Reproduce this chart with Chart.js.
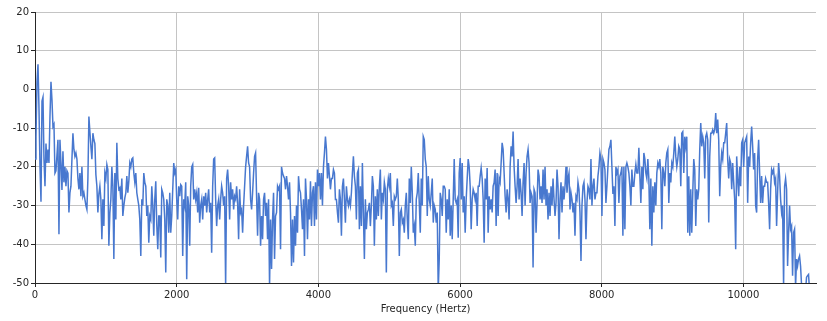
<!DOCTYPE html>
<html lang="en">
<head>
  <meta charset="UTF-8" />
  <title>Spectrum</title>
  <script src="https://cdn.jsdelivr.net/npm/chart.js"></script>
  <style>
    body { margin: 0; background: #fff; }
    .chart-container { width: 827px; height: 321px; }
  </style>
</head>
<body>
  <div class="chart-container">
    <canvas id="spectrum" width="827" height="321"></canvas>
  </div>

  <script>
    // one reading per frequency bin
    const binHz = 14.09;
    const freqTicks = [0, 2000, 4000, 6000, 8000, 10000];
    const levelsDb = [
      -18, -12, 2, 6.5, -5, -20, -29, -3, -2, -18,
      -25, -14, -19, -15.5, -19, -7, 2, -2.7, -9.6, -9,
      -21.6, -21, -17, -13, -37.4, -13, -19, -26, -16, -24,
      -20, -25, -21, -21.6, -31.8, -26.7, -25, -18, -11.3, -15.5,
      -17.3, -16.4, -18, -23, -25.8, -21.6, -27.6, -20, -27.6, -26.7,
      -28.4, -30, -31, -23, -7, -11, -14.7, -18, -11.3, -13,
      -14, -22, -25, -31.8, -27, -25, -28.4, -38.7, -28.4, -35.3,
      -21.6, -23, -19.4, -20.7, -40.4, -32, -28.4, -20, -25, -43.8,
      -21.6, -33.6, -13.8, -23, -25.8, -25.4, -28.4, -23, -32.7, -30,
      -28, -26.7, -22.4, -26.7, -23.7, -19, -20, -18, -17.7, -21.6,
      -24, -21.6, -26.7, -28.4, -30, -33.6, -43, -28.4, -30, -21.6,
      -24, -25, -32.7, -30, -39.6, -32.7, -33.6, -25, -30, -37.8,
      -28.4, -23.7, -35, -41.3, -32.7, -32.7, -43.4, -25.8, -26.7, -28.4,
      -33.6, -47.3, -28.4, -30, -37, -26.7, -37, -32.7, -25.8, -19,
      -21.6, -20.7, -28.4, -33.6, -25, -27.6, -24.6, -25, -43, -28.4,
      -30, -24, -49, -27.6, -30, -40.4, -25, -20, -19.4, -28.4,
      -25.8, -28.4, -26.7, -31.8, -25.4, -34.4, -30, -28.4, -33.6, -27.6,
      -30, -26.7, -31.8, -28.4, -25.8, -31.8, -29.3, -42.2, -25, -18,
      -17.7, -28.4, -35.3, -30, -28.4, -33.6, -28.4, -25, -26.7, -30,
      -27.6, -51, -23, -20.7, -25, -33.6, -24, -28.4, -25.8, -31,
      -27.6, -28.4, -25, -29.3, -38.7, -25.8, -31.8, -31, -37, -30,
      -25, -20, -17.3, -14.7, -19, -20, -28.4, -31, -26.7, -21.6,
      -17.3, -16.4, -27.6, -37.8, -26.7, -28.4, -40.4, -32.7, -38.7, -28.4,
      -26.7, -32.7, -29.3, -38.7, -28.4, -51, -33.6, -46.4, -33.6, -26.7,
      -43.8, -32.7, -31.8, -25, -25.8, -25, -41.3, -20, -21.6, -22.4,
      -23, -25.8, -22.4, -25, -28.4, -24, -31.8, -45.6, -33.6, -44.7,
      -32.7, -40.4, -30, -37, -22.4, -25.8, -26.7, -31, -36.1, -28.4,
      -43, -23, -28.4, -38.7, -28.4, -33.6, -23.7, -35.3, -26.7, -25,
      -35.3, -24, -33.6, -20.7, -25, -21.6, -28.4, -21.6, -30, -20,
      -16.4, -12.2, -15.5, -23, -19, -22.4, -25.8, -23, -23, -20.7,
      -21.6, -28.4, -28.4, -31.8, -34.4, -25.8, -28.4, -37.8, -25, -23,
      -28.4, -34.4, -25, -28.4, -30, -28.4, -30, -26.7, -21.6, -17.3,
      -22.4, -25, -33.6, -21.6, -20.7, -36.1, -25, -35.3, -19, -31.8,
      -43.8, -28.4, -36.1, -31.8, -31, -29.3, -35.3, -30, -22.4, -25,
      -40.4, -27.6, -33.6, -25.8, -32.7, -25, -20.7, -33.6, -26.7, -28.4,
      -24, -25.8, -47.3, -25.8, -23, -25, -21.6, -30, -29.3, -35.3,
      -27.6, -28.4, -27.6, -23, -28.4, -43, -31.8, -31, -34.4, -33.6,
      -37, -30, -26.7, -33.6, -38.7, -23, -29.3, -20, -26.7, -37,
      -35.3, -40.4, -28.4, -26.7, -21.6, -29.3, -37, -23, -30, -12.2,
      -13, -18, -20, -32.7, -22.4, -28.4, -30, -26.7, -23, -34.4,
      -30, -31, -34.4, -31.8, -52, -43.8, -26.7, -28.4, -32.7, -25,
      -25, -25.8, -37, -28.4, -33.6, -25.8, -37.8, -30, -38.7, -28.4,
      -18, -28.4, -29.3, -28.4, -38.3, -21.6, -17.7, -28.4, -19, -31.8,
      -27.6, -37, -28.4, -23, -18, -20, -25, -36.1, -28.4, -25.8,
      -26.7, -28.4, -26.7, -35.3, -25, -25, -22.4, -20.3, -23, -28.4,
      -39.6, -23, -28.4, -20.3, -37, -27.6, -31, -28.4, -31.8, -25,
      -24, -20.7, -35.3, -21.6, -32.7, -23, -24, -19, -13.8, -15.5,
      -21.6, -27.6, -31.8, -25.8, -28.4, -33.6, -20, -14.7, -17.3, -10.9,
      -20, -25, -29.3, -25, -18, -28.4, -23, -26.7, -32.7, -24,
      -19, -30, -21.6, -17.3, -15.5, -19, -29.3, -26.7, -27.6, -46,
      -25.8, -26.7, -37, -29.3, -20.7, -22.4, -28.4, -25, -29.3, -20.7,
      -28.4, -20, -30, -25.8, -33.6, -26.7, -32.7, -25, -30, -23,
      -28.4, -32.7, -29.3, -20.7, -25, -38.7, -28.4, -24, -31.8, -25,
      -28.4, -25, -20, -26.7, -23, -21.6, -31, -26.7, -28.4, -31.8,
      -29.3, -37.8, -27.6, -28.4, -24, -25.8, -31.8, -44.3, -30, -25,
      -24, -28.4, -38.7, -29.3, -25, -25.8, -28.4, -18, -30, -25,
      -23, -28.4, -26.7, -26.7, -22.4, -20, -16.4, -18, -32.7, -18,
      -19, -20.7, -29.3, -25, -20, -15.5, -14.7, -13, -20, -27,
      -25, -35.3, -20, -21.6, -20.7, -29.3, -22.4, -21.6, -20, -37.8,
      -20, -36.1, -20, -19, -20, -21.6, -25, -30, -20.7, -25,
      -25, -21.6, -19.4, -21.6, -21.6, -15.1, -22.4, -29.3, -20, -25.8,
      -16.4, -18, -21.6, -23, -18, -23, -36.1, -23, -40.4, -25,
      -31.8, -24, -30, -21.6, -19, -20, -18, -21.6, -36.1, -20,
      -21.6, -25, -19, -16.4, -15.5, -29.3, -21.6, -24, -19, -20,
      -16.4, -12.2, -17.3, -20, -18, -14.7, -15.5, -25, -11.3, -10.9,
      -21.6, -12.2, -14.7, -12.2, -37, -22.4, -37.8, -25.8, -37, -26.7,
      -18, -20.7, -35.3, -25.8, -28.4, -25.8, -15.5, -8.7, -14.7, -12.2,
      -13.8, -23, -12.2, -11.3, -13, -34.4, -17.3, -11.3, -11.3, -10.4,
      -11.3, -10.4, -6.1, -11.3, -7.8, -13, -27.6, -20, -16.4, -18,
      -13.8, -13.8, -11.3, -8.7, -18, -23, -18, -19, -25.8, -19,
      -24, -28.4, -41.3, -17.3, -23, -27.6, -20, -25, -13.8, -13,
      -20, -13.8, -13, -12.2, -29.3, -17.3, -20, -13.8, -9.6, -14.7,
      -20.7, -16.4, -30, -31.8, -18, -13, -21.6, -29.3, -22.4, -29.3,
      -25, -25, -23, -24, -24, -29.3, -36.1, -25.8, -20.7, -21.6,
      -20.7, -24, -23, -35.3, -26.7, -19, -22.4, -28.4, -31.8, -30,
      -51, -25, -23, -25.8, -45.6, -37, -30, -36.1, -35.3, -48.1,
      -37, -36.1, -51, -43.8, -45.6, -43.8, -43, -45.6, -50.5, -54,
      -56, -55, -52, -48.5, -48.1, -47.8, -52, -56, -57, -58,
      -59, -60, -60
    ];

    const points = levelsDb.map((db, i) => ({ x: i * binHz, y: db }));

    const axisFont = { family: 'DejaVu Sans', size: 10 };
    const inkColor = '#262626';
    const gridColor = '#c4c4c4';

    new Chart(document.getElementById('spectrum'), {
      type: 'line',
      data: {
        datasets: [{
          data: points,
          borderColor: '#4878cf',
          borderWidth: 1.5,
          pointRadius: 0,
          tension: 0,
          fill: false
        }]
      },
      options: {
        responsive: false,
        animation: false,
        layout: { padding: { top: 12, right: 11, left: 0, bottom: 0 } },
        plugins: {
          legend: { display: false },
          tooltip: { enabled: false }
        },
        scales: {
          x: {
            type: 'linear',
            min: 0,
            max: 11025,
            afterFit: s => { s.height = 38; },
            afterBuildTicks: s => { s.ticks = freqTicks.map(v => ({ value: v })); },
            grid: { color: gridColor, lineWidth: 1, tickLength: 4, tickColor: inkColor },
            border: { display: true, color: inkColor, width: 1 },
            ticks: {
              autoSkip: false,
              maxRotation: 0,
              padding: 2,
              color: inkColor,
              font: axisFont,
              callback: v => String(v)
            },
            title: {
              display: true,
              text: 'Frequency (Hertz)',
              color: inkColor,
              font: axisFont,
              padding: { top: 0, bottom: 6 }
            }
          },
          y: {
            min: -50,
            max: 20,
            afterFit: s => { s.width = 35; },
            grid: { color: gridColor, lineWidth: 1, tickLength: 4, tickColor: inkColor },
            border: { display: true, color: inkColor, width: 1 },
            ticks: {
              stepSize: 10,
              padding: 2,
              color: inkColor,
              font: axisFont
            }
          }
        }
      }
    });
  </script>
</body>
</html>
